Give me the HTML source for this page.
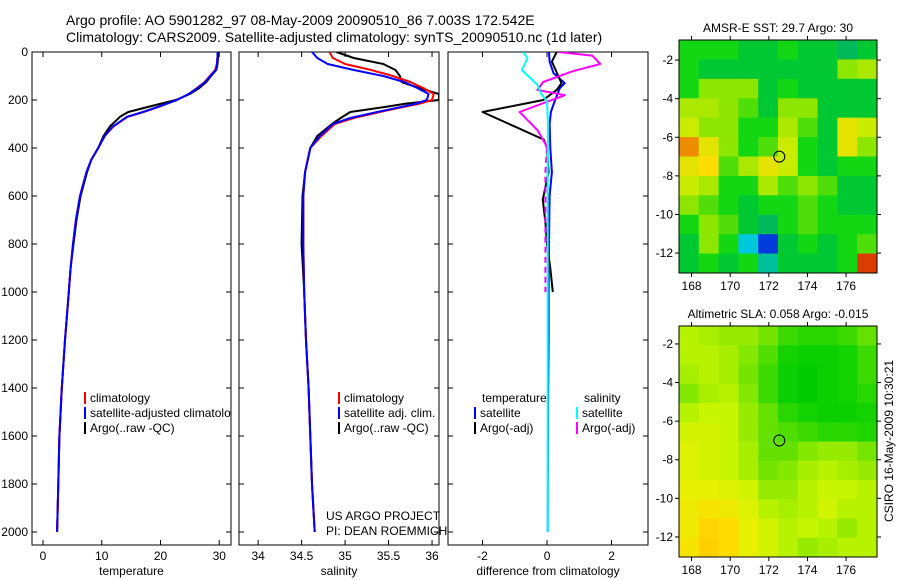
<!DOCTYPE html>
<html><head><meta charset="utf-8">
<style>
html,body{margin:0;padding:0;background:#fff;}
svg{display:block;font-family:"Liberation Sans",sans-serif;}
</style></head>
<body>
<svg id="fig" width="900" height="580" viewBox="0 0 900 580" xmlns="http://www.w3.org/2000/svg">
<rect x="0" y="0" width="900" height="580" fill="#fff"/>
<text x="66" y="25" font-size="14">Argo profile: AO 5901282_97 08-May-2009 20090510_86 7.003S 172.542E</text>
<text x="66" y="42" font-size="14">Climatology: CARS2009. Satellite-adjusted climatology: synTS_20090510.nc (1d later)</text>
<g id="layer"></g>
</svg>
<script>
// ---------- data ----------
const tDepth = [0,20,50,75,100,125,150,175,200,225,250,270,310,350,400,450,500,600,700,800,900,1000,1200,1400,1600,1800,2000];
const tClim  = [29.7,29.7,29.6,29.3,28.4,27.5,26.2,24.8,22.8,20.1,17.1,14.4,12.0,10.5,9.4,8.2,7.4,6.3,5.6,5.1,4.7,4.4,3.75,3.2,2.8,2.6,2.4];
const tSat   = [29.7,29.7,29.6,29.4,28.5,27.6,26.3,24.8,22.8,20.0,17.0,14.3,11.9,10.5,9.4,8.2,7.4,6.3,5.6,5.1,4.7,4.4,3.75,3.2,2.8,2.6,2.4];
const tArgo  = [29.8,29.8,29.7,29.5,28.6,27.8,26.6,25.0,22.6,18.5,14.5,13.1,11.4,10.3,9.4,8.2,7.5,6.4,5.7,5.2,4.7,4.4,3.75,3.2,2.8,2.6,2.4];

const sDepth = [0,25,50,75,100,125,150,175,200,215,230,250,275,300,350,400,500,600,800,1000,1200,1400,1600,1800,2000];
const sClim  = [34.82,34.86,35.0,35.3,35.55,35.75,35.9,36.02,36.0,35.86,35.66,35.4,35.1,34.88,34.73,34.6,34.54,34.52,34.52,34.53,34.55,34.58,34.6,34.62,34.65];
const sSat   = [34.62,34.68,34.8,35.1,35.44,35.68,35.83,35.96,35.94,35.82,35.63,35.37,35.06,34.86,34.71,34.6,34.54,34.52,34.52,34.53,34.55,34.58,34.6,34.62,34.65];
const sArgo  = [34.9,35.1,35.44,35.58,35.63,35.65,35.85,36.08,36.08,35.7,35.44,35.06,34.95,34.85,34.68,34.6,34.54,34.51,34.5,34.53,34.55,34.58,34.6,34.62,34.65];

const dTSatDepth  = [0,40,88,130,150,200,250,300,400,500,600,800,1000,1200,1500,2000];
const dTSat       = [0.06,0.08,0.2,0.55,0.4,0.25,0.12,0.08,0.1,0.15,0.08,0.06,0.05,0.05,0.03,0.02];
const dTArgoDepth = [0,40,100,130,158,200,250,365,400,500,615,710,800,900,1000];
const dTArgo      = [0.3,0.15,0.35,0.45,0.3,-0.12,-2.0,-0.1,0.0,0.05,-0.13,-0.05,0.0,0.1,0.18];
const dSArgoDepth = [0,15,50,80,125,158,180,250,325,395,500,700,1000];
const dSArgo      = [0.35,1.4,1.65,0.8,-0.12,-0.3,0.55,-0.85,-0.3,0.0,-0.05,-0.05,-0.05];
const dSSatDepth  = [0,25,75,137,170,205,300,500,1000,1500,2000];
const dSSat       = [-0.75,-0.6,-0.78,-0.3,-0.2,0.0,0.03,0.02,0.02,0.02,0.02];

const depthTicks = [0,200,400,600,800,1000,1200,1400,1600,1800,2000];
const tempTicks = [0,10,20,30];
const salTicks = [34,34.5,35,35.5,36];
const diffTicks = [-2,0,2];
const lonTicks = [168,170,172,174,176];
const latTicks = [-2,-4,-6,-8,-10,-12];

const sstGrid = [
 [29.6,29.6,29.6,29.5,29.5,29.6,29.5,29.5,29.4,29.5],
 [29.6,29.5,29.5,29.5,29.5,29.5,29.5,29.5,29.8,29.9],
 [29.6,29.8,29.8,29.8,29.5,29.6,29.5,29.5,29.5,29.5],
 [29.9,29.9,29.8,29.7,29.5,29.8,29.8,29.5,29.5,29.5],
 [30.0,29.8,29.8,29.6,29.6,29.9,29.7,29.5,30.1,30.0],
 [30.3,30.1,29.8,29.6,29.7,30.0,29.6,29.5,30.1,29.8],
 [30.1,30.2,29.7,29.9,30.1,30.0,29.6,29.5,29.6,29.6],
 [30.0,29.9,29.6,29.6,29.9,29.7,29.8,29.7,29.5,29.5],
 [29.8,29.7,29.6,29.5,29.6,29.6,29.7,29.6,29.5,29.5],
 [29.6,29.8,29.7,29.5,29.4,29.6,29.7,29.6,29.6,29.6],
 [29.5,29.8,29.6,29.2,29.0,29.5,29.6,29.5,29.6,29.7],
 [29.5,29.6,29.5,29.6,29.3,29.5,29.5,29.5,29.6,30.4]];
const slaGrid = [
 [0.10,0.09,0.08,0.08,0.06,0.03,0.02,0.02,0.03,0.05],
 [0.10,0.10,0.09,0.07,0.04,0.00,-0.01,-0.01,0.00,0.03],
 [0.09,0.10,0.09,0.06,0.03,-0.01,-0.02,-0.01,0.00,0.03],
 [0.07,0.09,0.10,0.07,0.03,-0.01,-0.02,-0.01,0.00,0.02],
 [0.10,0.11,0.11,0.08,0.05,0.02,0.00,-0.01,-0.01,0.00],
 [0.12,0.12,0.11,0.08,0.05,0.04,0.03,0.02,0.02,0.01],
 [0.13,0.12,0.11,0.09,0.05,0.05,0.07,0.08,0.08,0.06],
 [0.13,0.12,0.11,0.09,0.06,0.07,0.09,0.10,0.09,0.08],
 [0.14,0.14,0.13,0.12,0.08,0.08,0.10,0.11,0.11,0.10],
 [0.15,0.16,0.15,0.13,0.10,0.09,0.10,0.12,0.10,0.10],
 [0.15,0.18,0.17,0.14,0.12,0.10,0.11,0.10,0.08,0.10],
 [0.16,0.19,0.17,0.14,0.12,0.10,0.08,0.09,0.10,0.10]];
const floatLon = 172.542, floatLat = -7.003;

// ---------- helpers ----------
const NS = 'http://www.w3.org/2000/svg';
const layer = document.getElementById('layer');
function mk(tag, attrs, parent, txt){
  const e = document.createElementNS(NS, tag);
  for (const k in attrs) e.setAttribute(k, attrs[k]);
  if (txt !== undefined) e.textContent = txt;
  (parent || layer).appendChild(e);
  return e;
}
const PT = 52, PB = 545;
const yDepth = d => 52 + d * 0.24;
const panels = [
  {name:'temperature', x0:32, x1:231, v0:-1.87, v1:32.0, ticks:tempTicks, label:'temperature'},
  {name:'salinity', x0:239, x1:439, v0:33.78, v1:36.08, ticks:salTicks, label:'salinity'},
  {name:'difference', x0:448, x1:648, v0:-3.07, v1:3.13, ticks:diffTicks, label:'difference from climatology'}
];
function xf(p){ return v => p.x0 + (v - p.v0) / (p.v1 - p.v0) * (p.x1 - p.x0); }

panels.forEach((p, i) => {
  const g = mk('g', {});
  
  
  mk('rect', {x:p.x0, y:PT, width:p.x1-p.x0, height:PB-PT, fill:'#fff', stroke:'#000', 'stroke-width':1}, g);
  const cp = mk('clipPath', {id:'clip'+i}, g);
  mk('rect', {x:p.x0, y:PT, width:p.x1-p.x0, height:PB-PT}, cp);
  const X = xf(p);
  p.ticks.forEach(t => {
    const x = X(t);
    mk('line', {x1:x, x2:x, y1:PB, y2:PB-5, stroke:'#000'}, g);
    mk('line', {x1:x, x2:x, y1:PT, y2:PT+5, stroke:'#000'}, g);
    const tl = mk('text', {x:x, y:PB+15, 'font-size':12, 'text-anchor':'middle'}, g, String(t));
    
    
  });
  depthTicks.forEach(d => {
    const y = yDepth(d);
    mk('line', {x1:p.x0, x2:p.x0+5, y1:y, y2:y, stroke:'#000'}, g);
    mk('line', {x1:p.x1, x2:p.x1-5, y1:y, y2:y, stroke:'#000'}, g);
    if (i === 0) {
      const tl = mk('text', {x:p.x0-4, y:y+4, 'font-size':12, 'text-anchor':'end'}, g, String(d));
      
      
    }
  });
  const al = mk('text', {x:(p.x0+p.x1)/2, y:575, 'font-size':12, 'text-anchor':'middle'}, g, p.label);
  
  
  p.g = g; p.X = X; p.clip = 'url(#clip'+i+')';
});

function series(p, depths, vals, color, name, dash){
  const pts = depths.map((d, k) => p.X(vals[k]).toFixed(1) + ',' + yDepth(d).toFixed(1)).join(' ');
  const pl = mk('polyline', {points:pts, fill:'none', stroke:color, 'stroke-width':2, 'clip-path':p.clip, 'stroke-linejoin':'round'}, p.g);
  if (dash) pl.setAttribute('stroke-dasharray', dash);
  
  
}
series(panels[0], tDepth, tArgo, '#000', 'temp-argo-line');
series(panels[0], tDepth, tClim, '#f00', 'temp-climatology-line');
series(panels[0], tDepth, tSat, '#00f', 'temp-satellite-line');
series(panels[1], sDepth, sArgo, '#000', 'sal-argo-line');
series(panels[1], sDepth, sClim, '#f00', 'sal-climatology-line');
series(panels[1], sDepth, sSat, '#00f', 'sal-satellite-line');
series(panels[2], dTSatDepth, dTSat, '#00f', 'diff-temp-satellite-line');
series(panels[2], dTArgoDepth, dTArgo, '#000', 'diff-temp-argo-line');
series(panels[2], dSArgoDepth.slice(0,10), dSArgo.slice(0,10), '#f0f', 'diff-sal-argo-line');
series(panels[2], dSArgoDepth.slice(9), dSArgo.slice(9), '#f0f', 'diff-sal-argo-dashed-line', '6,4');
series(panels[2], dSSatDepth, dSSat, '#0ff', 'diff-sal-satellite-line');

function legend(g, x, y, color, label, name){
  if (color) mk('rect', {x:x, y:y-10, width:2, height:12, fill:color}, g);
  const t = mk('text', {x:x+6, y:y, 'font-size':12}, g, label);
  
  
}
const lg1 = mk('g', {'clip-path':'url(#clip0)'}, panels[0].g);
legend(lg1, 84, 402, '#f00', 'climatology', 'legend-entry-climatology');
legend(lg1, 84, 417, '#00f', 'satellite-adjusted climatology', 'legend-entry-satellite-adjusted');
legend(lg1, 84, 432, '#000', 'Argo(..raw -QC)', 'legend-entry-argo');
legend(panels[1].g, 338, 402, '#f00', 'climatology', 'legend-entry-sal-climatology');
legend(panels[1].g, 338, 417, '#00f', 'satellite adj. clim.', 'legend-entry-sal-satellite');
legend(panels[1].g, 338, 432, '#000', 'Argo(..raw -QC)', 'legend-entry-sal-argo');
legend(panels[2].g, 476, 402, null, 'temperature', 'legend-header-temperature');
legend(panels[2].g, 578, 402, null, 'salinity', 'legend-header-salinity');
legend(panels[2].g, 474, 417, '#00f', 'satellite', 'legend-entry-temp-satellite');
legend(panels[2].g, 474, 432, '#000', 'Argo(-adj)', 'legend-entry-temp-argo');
legend(panels[2].g, 576, 417, '#0ff', 'satellite', 'legend-entry-sal-satellite');
legend(panels[2].g, 576, 432, '#f0f', 'Argo(-adj)', 'legend-entry-sal-argo');
legend(panels[1].g, 320, 520, null, 'US ARGO PROJECT', 'credit-project');
legend(panels[1].g, 320, 535, null, 'PI: DEAN ROEMMICH', 'credit-pi');

// ---------- maps ----------
function rgb(c){ return 'rgb(' + c.map(Math.round).join(',') + ')'; }
function lerpColor(stops, v){
  if (v <= stops[0][0]) return rgb(stops[0][1]);
  for (let k = 1; k < stops.length; k++) {
    if (v <= stops[k][0]) {
      const a = stops[k-1], b = stops[k], f = (v - a[0]) / (b[0] - a[0]);
      return rgb(a[1].map((ch, j) => ch + (b[1][j] - ch) * f));
    }
  }
  return rgb(stops[stops.length-1][1]);
}
const sstStops = [[29.0,[0,60,220]],[29.2,[0,200,220]],[29.4,[0,185,90]],[29.5,[0,200,50]],[29.6,[20,215,20]],[29.8,[140,230,0]],[30.0,[200,235,0]],[30.2,[255,220,0]],[30.4,[220,60,0]]];
const slaStops = [[-0.02,[0,205,0]],[0.02,[40,215,0]],[0.05,[100,225,0]],[0.08,[150,235,0]],[0.11,[200,245,0]],[0.14,[230,240,0]],[0.17,[255,220,0]],[0.20,[255,200,0]]];
const LON0 = 167.35, LON1 = 177.6;
function drawMap(name, top, bottom, latTop, grid, stops, title){
  const g = mk('g', {});
  
  
  const L = 679, R = 877;
  const latBot = latTop - (bottom - top) / 19.3;
  const X = lon => L + (lon - LON0) / (LON1 - LON0) * (R - L);
  const Y = lat => top + (latTop - lat) / (latTop - latBot) * (bottom - top);
  const rows = grid.length, cols = grid[0].length;
  for (let r = 0; r < rows; r++) for (let c = 0; c < cols; c++) {
    const lo0 = LON0 + c * (LON1 - LON0) / cols, lo1 = LON0 + (c+1) * (LON1 - LON0) / cols;
    const la0 = latTop - r * (latTop - latBot) / rows, la1 = latTop - (r+1) * (latTop - latBot) / rows;
    const cell = mk('rect', {x:X(lo0), y:Y(la0), width:X(lo1)-X(lo0)+0.5, height:Y(la1)-Y(la0)+0.5, fill:lerpColor(stops, grid[r][c])}, g);
    
    
  }
  mk('rect', {x:L, y:top, width:R-L, height:bottom-top, fill:'none', stroke:'#000'}, g);
  lonTicks.forEach(t => {
    const x = X(t);
    mk('line', {x1:x, x2:x, y1:bottom, y2:bottom+4, stroke:'#000'}, g);
    mk('line', {x1:x, x2:x, y1:top, y2:top-4, stroke:'#000'}, g);
    const tl = mk('text', {x:x, y:bottom+17, 'font-size':12, 'text-anchor':'middle'}, g, String(t));
    
    
  });
  latTicks.forEach(t => {
    const y = Y(t);
    mk('line', {x1:L, x2:L-4, y1:y, y2:y, stroke:'#000'}, g);
    mk('line', {x1:R, x2:R+4, y1:y, y2:y, stroke:'#000'}, g);
    const tl = mk('text', {x:L-6, y:y+4, 'font-size':12, 'text-anchor':'end'}, g, String(t));
    
    
  });
  const c = mk('circle', {cx:X(floatLon), cy:Y(floatLat), r:5.5, fill:'none', stroke:'#000', 'stroke-width':1}, g);
  
  
  const tt = mk('text', {x:778, y:top-8, 'font-size':12, 'text-anchor':'middle'}, g, title);
  
  
}
drawMap('sst-map', 40, 273, -0.96, sstGrid, sstStops, 'AMSR-E SST: 29.7 Argo: 30');
drawMap('sla-map', 326, 557, -1.07, slaGrid, slaStops, 'Altimetric SLA: 0.058 Argo: -0.015');
const stamp = mk('text', {x:0, y:0, 'font-size':12, 'text-anchor':'middle', transform:'translate(893,441) rotate(-90)'}, layer, 'CSIRO 16-May-2009 10:30:21');


</script>
</body></html>
